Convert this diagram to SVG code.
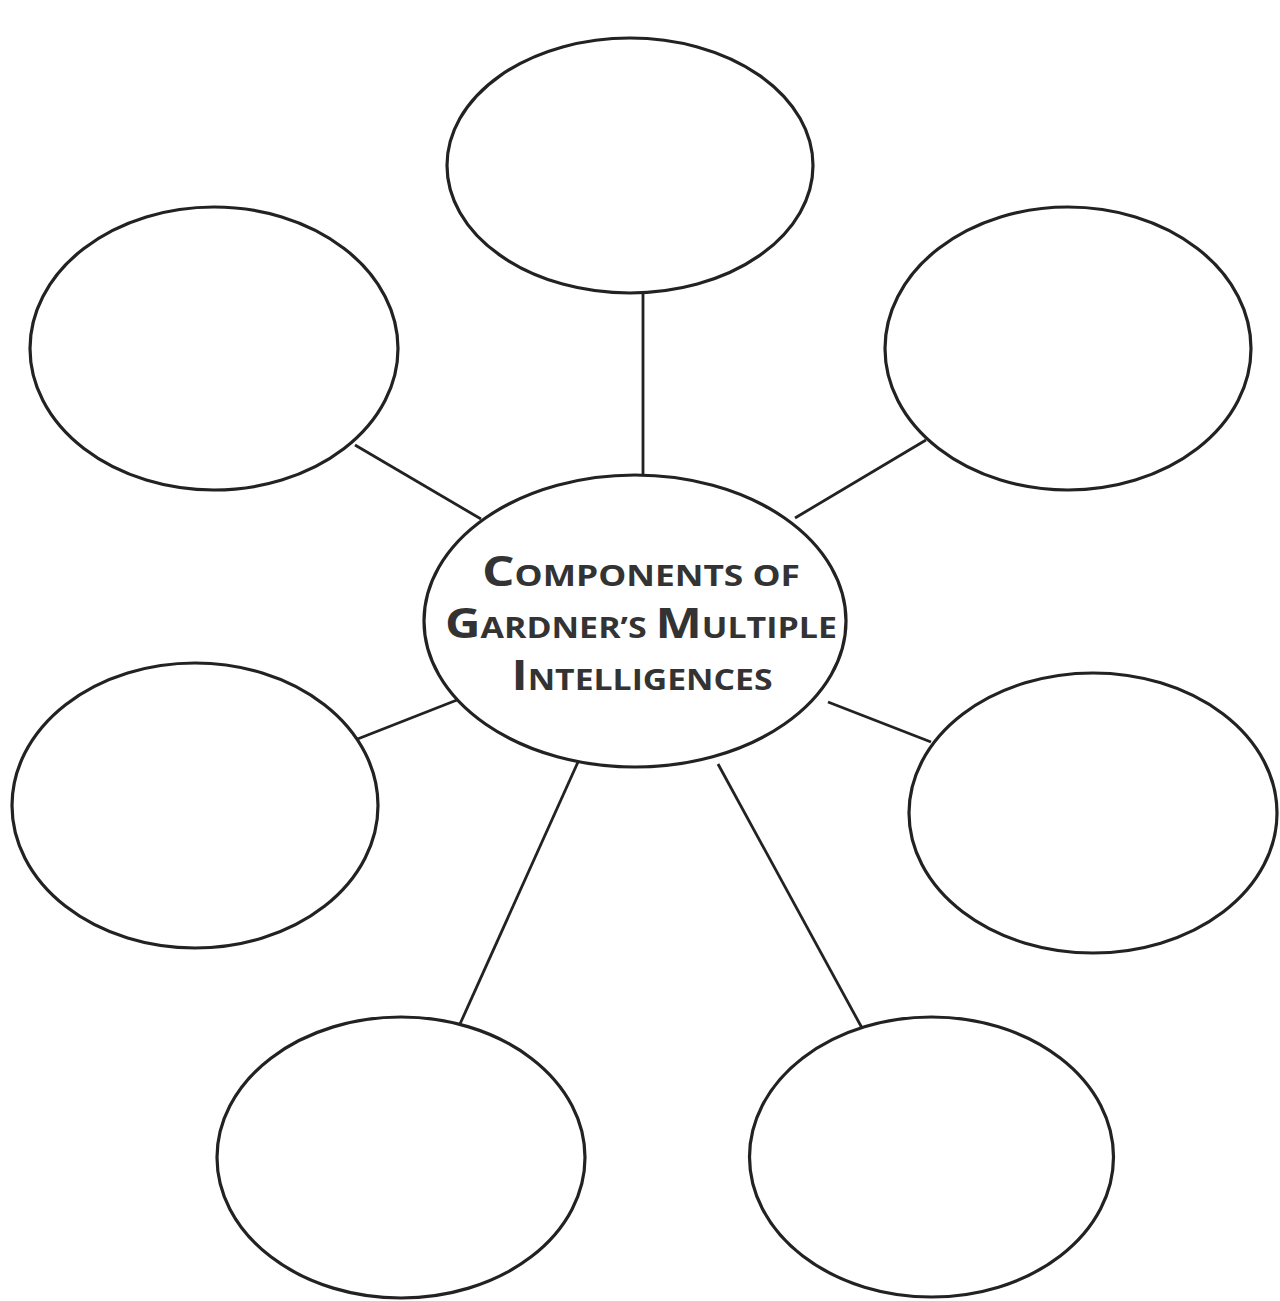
<svg xmlns="http://www.w3.org/2000/svg" width="1280" height="1301" viewBox="0 0 1280 1301">
<style>
.node{fill:#fff;stroke:#222;stroke-width:3.2}
.conn line{stroke:#222;stroke-width:2.8}
.t{font-family:"Open Sans","Liberation Sans",sans-serif;font-weight:bold;fill:#333;text-anchor:middle}
.big{font-size:42px}
.sm{font-size:29px}
</style>
<rect width="1280" height="1301" fill="#fff"/>
<g class="conn" id="connectors">
<line x1="643" y1="292" x2="643" y2="476"/>
<line x1="355" y1="445" x2="481" y2="519"/>
<line x1="926" y1="440" x2="795" y2="518"/>
<line x1="355" y1="740" x2="457" y2="700"/>
<line x1="828" y1="702" x2="931" y2="742"/>
<line x1="578" y1="762" x2="460" y2="1024"/>
<line x1="718" y1="764" x2="862" y2="1028"/>
</g>
<g id="node-top"><ellipse class="node" cx="630" cy="165.5" rx="183" ry="127.5"/></g>
<g id="node-upper-left"><ellipse class="node" cx="214" cy="348.5" rx="184" ry="141.5"/></g>
<g id="node-upper-right"><ellipse class="node" cx="1068" cy="348.5" rx="183" ry="141.5"/></g>
<g id="node-middle-left"><ellipse class="node" cx="195" cy="805.5" rx="183" ry="142.5"/></g>
<g id="node-middle-right"><ellipse class="node" cx="1093" cy="813" rx="184" ry="140"/></g>
<g id="node-bottom-left"><ellipse class="node" cx="401" cy="1157.5" rx="184" ry="140.5"/></g>
<g id="node-bottom-right"><ellipse class="node" cx="931.5" cy="1157" rx="182" ry="140"/></g>
<g id="node-center">
<ellipse class="node" cx="635" cy="621" rx="211" ry="146"/>
<text class="t" x="641" y="586" textLength="318" lengthAdjust="spacingAndGlyphs"><tspan class="big">C</tspan><tspan class="sm">OMPONENTS OF</tspan></text>
<text class="t" x="641" y="638" textLength="392" lengthAdjust="spacingAndGlyphs"><tspan class="big">G</tspan><tspan class="sm">ARDNER’S </tspan><tspan class="big">M</tspan><tspan class="sm">ULTIPLE</tspan></text>
<text class="t" x="642" y="690" textLength="261" lengthAdjust="spacingAndGlyphs"><tspan class="big">I</tspan><tspan class="sm">NTELLIGENCES</tspan></text>
</g>
</svg>
